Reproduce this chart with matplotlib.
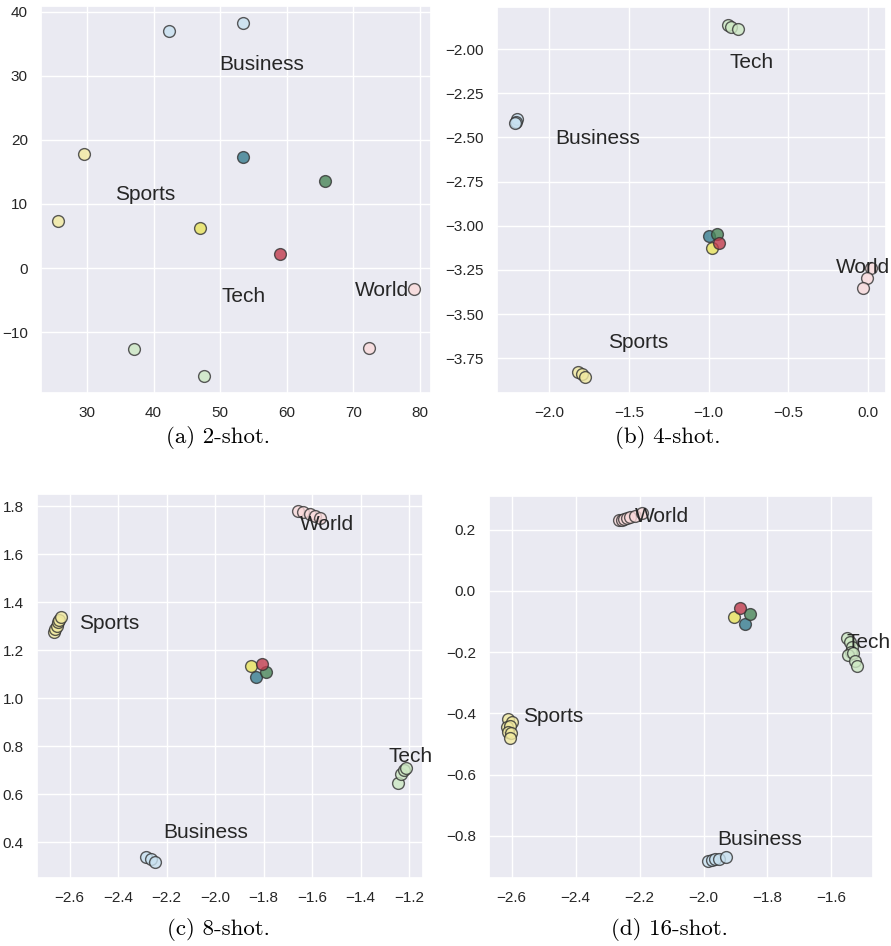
import matplotlib
matplotlib.use("Agg")
import matplotlib.pyplot as plt
import seaborn as sns
from matplotlib.ticker import MultipleLocator

sns.set_theme(style="darkgrid")
plt.rcParams['font.family'] = ['Liberation Sans', 'DejaVu Sans']

classes = ["Business", "Sports", "Tech", "World"]

# ---- (a) 2-shot ----
a_bus_x = [42.3, 53.5]; a_bus_y = [37.0, 38.3]
a_spo_x = [29.5, 25.7]; a_spo_y = [17.8, 7.3]
a_tec_x = [37.1, 47.5]; a_tec_y = [-12.6, -16.9]
a_wor_x = [79.1, 72.4]; a_wor_y = [-3.2, -12.45]
a_cen_x = [53.5, 47.0, 65.7, 59.0]   # Business, Sports, Tech, World
a_cen_y = [17.4, 6.2, 13.6, 2.2]
a_lab_x = [49.8, 34.2, 50.2, 70.2]
a_lab_y = [30.9, 10.6, -5.3, -4.4]

# ---- (b) 4-shot ----
b_bus_x = [-2.205, -2.212, -2.218]; b_bus_y = [-2.398, -2.410, -2.420]
b_spo_x = [-1.820, -1.797, -1.774]; b_spo_y = [-3.825, -3.838, -3.853]
b_tec_x = [-0.879, -0.860, -0.817]; b_tec_y = [-1.866, -1.874, -1.887]
b_wor_x = [0.021, -0.006, -0.031]; b_wor_y = [-3.237, -3.293, -3.350]
b_cen_x = [-0.995, -0.980, -0.949, -0.932]
b_cen_y = [-3.056, -3.127, -3.046, -3.097]
b_lab_x = [-1.964, -1.633, -0.871, -0.199]
b_lab_y = [-2.539, -3.693, -2.106, -3.265]

# ---- (c) 8-shot ----
c_bus_x = [-2.286, -2.266, -2.247]; c_bus_y = [0.340, 0.329, 0.319]
c_spo_x = [-2.665, -2.659, -2.654, -2.647, -2.643, -2.637]
c_spo_y = [1.274, 1.287, 1.301, 1.315, 1.326, 1.338]
c_tec_x = [-1.248, -1.232, -1.221, -1.214]; c_tec_y = [0.646, 0.684, 0.701, 0.711]
c_wor_x = [-1.660, -1.640, -1.610, -1.590, -1.570]
c_wor_y = [1.780, 1.775, 1.765, 1.758, 1.748]
c_cen_x = [-1.832, -1.853, -1.791, -1.806]
c_cen_y = [1.088, 1.133, 1.109, 1.141]
c_lab_x = [-2.215, -2.562, -1.284, -1.651]
c_lab_y = [0.417, 1.288, 0.736, 1.700]

# ---- (d) 16-shot ----
d_bus_x = [-1.985, -1.974, -1.964, -1.953, -1.929]
d_bus_y = [-0.883, -0.879, -0.877, -0.875, -0.871]
d_spo_x = [-2.611, -2.600, -2.616, -2.605, -2.611, -2.603, -2.604]
d_spo_y = [-0.420, -0.427, -0.444, -0.442, -0.460, -0.465, -0.482]
d_tec_x = [-1.552, -1.542, -1.536, -1.538, -1.549, -1.532, -1.526, -1.520]
d_tec_y = [-0.153, -0.166, -0.182, -0.199, -0.209, -0.204, -0.229, -0.245]
d_wor_x = [-2.264, -2.256, -2.248, -2.240, -2.229, -2.215, -2.193]
d_wor_y = [0.232, 0.233, 0.235, 0.237, 0.240, 0.245, 0.256]
d_cen_x = [-1.870, -1.905, -1.855, -1.885]
d_cen_y = [-0.107, -0.084, -0.075, -0.055]
d_lab_x = [-1.956, -2.566, -1.552, -2.214]
d_lab_y = [-0.830, -0.427, -0.188, 0.226]

captions = ["(a) 2-shot.", "(b) 4-shot.", "(c) 8-shot.", "(d) 16-shot."]

light_cols = ["#c8e1f0", "#f2eaa0", "#cde8c3", "#fadadb"]
center_cols = ["#377d8f", "#e9e45c", "#4a8659", "#c13c4d"]

panels = [
    dict(pts=[(a_bus_x, a_bus_y), (a_spo_x, a_spo_y), (a_tec_x, a_tec_y), (a_wor_x, a_wor_y)],
         cen=(a_cen_x, a_cen_y), lab=(a_lab_x, a_lab_y),
         pos=[0.0460, 0.5846, 0.4377, 0.4091], xlim=(23.1, 81.65), ylim=(-19.5, 40.9),
         xstep=10, ystep=10),
    dict(pts=[(b_bus_x, b_bus_y), (b_spo_x, b_spo_y), (b_tec_x, b_tec_y), (b_wor_x, b_wor_y)],
         cen=(b_cen_x, b_cen_y), lab=(b_lab_x, b_lab_y),
         pos=[0.5575, 0.5846, 0.4366, 0.4080], xlim=(-2.33, 0.113), ylim=(-3.946, -1.762),
         xstep=0.5, ystep=0.25),
    dict(pts=[(c_bus_x, c_bus_y), (c_spo_x, c_spo_y), (c_tec_x, c_tec_y), (c_wor_x, c_wor_y)],
         cen=(c_cen_x, c_cen_y), lab=(c_lab_x, c_lab_y),
         pos=[0.0412, 0.0716, 0.4339, 0.4062], xlim=(-2.736, -1.142), ylim=(0.250, 1.850),
         xstep=0.2, ystep=0.2),
    dict(pts=[(d_bus_x, d_bus_y), (d_spo_x, d_spo_y), (d_tec_x, d_tec_y), (d_wor_x, d_wor_y)],
         cen=(d_cen_x, d_cen_y), lab=(d_lab_x, d_lab_y),
         pos=[0.5488, 0.0716, 0.4313, 0.4044], xlim=(-2.671, -1.469), ylim=(-0.939, 0.311),
         xstep=0.2, ystep=0.2),
]

fig = plt.figure(figsize=(8.91, 9.46), dpi=100)
cap_pos = [(0.2447, 0.5380), (0.7497, 0.5380), (0.2447, 0.0170), (0.7508, 0.0170)]

for i, p in enumerate(panels):
    ax = fig.add_axes(p["pos"])
    for k, (xs, ys) in enumerate(p["pts"]):
        ax.scatter(xs, ys, s=72, c=light_cols[k], edgecolors="#333333",
                   linewidths=1.0, alpha=0.8, zorder=3)
    cx, cy = p["cen"]
    for k in range(4):
        ax.scatter([cx[k]], [cy[k]], s=72, c=center_cols[k], edgecolors="#333333",
                   linewidths=1.0, alpha=0.8, zorder=3)
    lx, ly = p["lab"]
    for k, name in enumerate(classes):
        ax.text(lx[k], ly[k], name, fontsize=15, color="#262626", zorder=5)
    ax.set_xlim(*p["xlim"])
    ax.set_ylim(*p["ylim"])
    ax.xaxis.set_major_locator(MultipleLocator(p["xstep"]))
    ax.yaxis.set_major_locator(MultipleLocator(p["ystep"]))
    ax.tick_params(labelsize=11, colors="#262626")
    fig.text(cap_pos[i][0], cap_pos[i][1], captions[i], ha="center", va="center",
             fontsize=16.5, family="cmr10", color="black")

fig.savefig("out.png", dpi=100)
